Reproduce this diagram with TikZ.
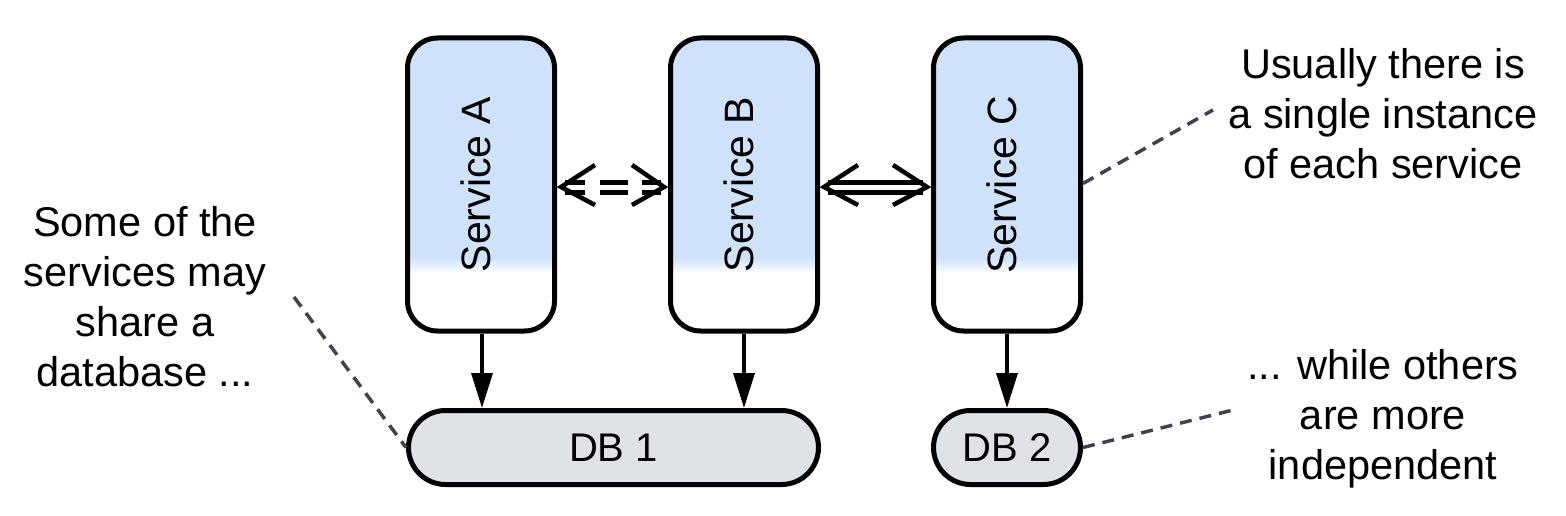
\documentclass[tikz,border=0pt]{standalone}
\usepackage{fontspec}
\setmainfont{Liberation Sans}
\usetikzlibrary{arrows.meta,calc}
\definecolor{svcblue}{RGB}{207,226,251}
\definecolor{dbgray}{RGB}{223,226,231}
\definecolor{notegray}{RGB}{61,68,81}
\tikzset{
  bigfont/.style={font=\fontsize{41.5}{50}\selectfont},
  svc/.style={draw=black, line width=5pt, rounded corners=30pt, inner sep=0pt,
    minimum width=147pt, minimum height=293pt,
    path picture={
      \fill[white, sharp corners] (path picture bounding box.south west) rectangle (path picture bounding box.north east);
      \fill[svcblue, sharp corners] (path picture bounding box.north west) rectangle ($(path picture bounding box.north east)+(0,221)$);
      \shade[top color=svcblue, bottom color=white, sharp corners] ($(path picture bounding box.north west)+(0,220)$) rectangle ($(path picture bounding box.north east)+(0,235)$);
    }},
  db/.style={draw=black, fill=dbgray, line width=5pt, rounded corners=37pt, inner sep=0pt,
    minimum height=74pt, font=\fontsize{40}{48}\selectfont},
  conn/.style={draw=black, line width=3.5pt, -{Triangle[length=35pt,width=21pt]}},
  dbl/.style={draw=black, line width=4.8pt, double=white, double distance=4.5pt},
  chev/.style={draw=black, line width=4.5pt, line join=miter, line cap=butt},
  note/.style={draw=notegray, line width=3.5pt, dash pattern=on 12pt off 8pt},
  svclabel/.style={rotate=90, font=\fontsize{41}{48}\selectfont, inner sep=0pt},
}
\begin{document}
\begin{tikzpicture}[x=1pt,y=-1pt]
\useasboundingbox (0,0) rectangle (1566,516);
% services
\node[svc] (sA) at (481,184.5) {};
\node[svc] (sB) at (744,184.5) {};
\node[svc] (sC) at (1007,184.5) {};
\node[svclabel] (tA) at ($(sA.center)+(-5,0)$) {Service A};
\node[svclabel] (tB) at ($(sB.center)+(-5,0)$) {Service B};
\node[svclabel] (tC) at ($(sC.center)+(-5,0)$) {Service C};
% databases
\node[db, minimum width=410pt] (db1) at (613.5,447.5) {DB 1};
\node[db, minimum width=147pt] (db2) at (1007,447.5) {DB 2};
% service -> db arrows
\draw[conn] ($(sA.south)+(1,0)$) -- ($(sA.south |- db1.north)+(1,0)$);
\draw[conn] (sB.south) -- (sB.south |- db1.north);
\draw[conn] (sC.south) -- (sC.south |- db2.north);
% A <=> B (dashed)
\draw[dbl, dash pattern=on 20pt off 15pt on 28pt off 14pt on 20pt]
  ($(sA.east)+(8,3)$) -- ($(sB.west)+(-7,3)$);
\draw[chev] ($(sA.east)+(38,-19.5)$) -- ($(sA.east)+(4,2.5)$) -- ($(sA.east)+(38,20.5)$);
\draw[chev] ($(sB.west)+(-36,-19.5)$) -- ($(sB.west)+(-4,2.5)$) -- ($(sB.west)+(-36,20.5)$);
% B <=> C (solid)
\draw[dbl] ($(sB.east)+(8,3)$) -- ($(sC.west)+(-8,3)$);
\draw[chev] ($(sB.east)+(38,-19.5)$) -- ($(sB.east)+(4,2.5)$) -- ($(sB.east)+(38,20.5)$);
\draw[chev] ($(sC.west)+(-38,-19.5)$) -- ($(sC.west)+(-4,2.5)$) -- ($(sC.west)+(-38,20.5)$);
% notes
\node[bigfont, align=center] (nL) at (145,297) {Some of the\\services may\\share a\\database ...};
\node[bigfont, align=center] (nT) at (1383,113.5) {Usually there is\\a single instance\\of each service};
\node[bigfont, align=center] (nB) at (1383,418.5) {... while others\\are more\\independent};
\coordinate (eL) at (294,297);
\coordinate (eT) at (1213,110);
\coordinate (eB) at (1233,410);
\draw[note] (eL) -- (db1.west);
\draw[note] ($(sC.east)+(0,-1)$) -- (eT);
\draw[note] (db2.east) -- (eB);
\end{tikzpicture}
\end{document}
